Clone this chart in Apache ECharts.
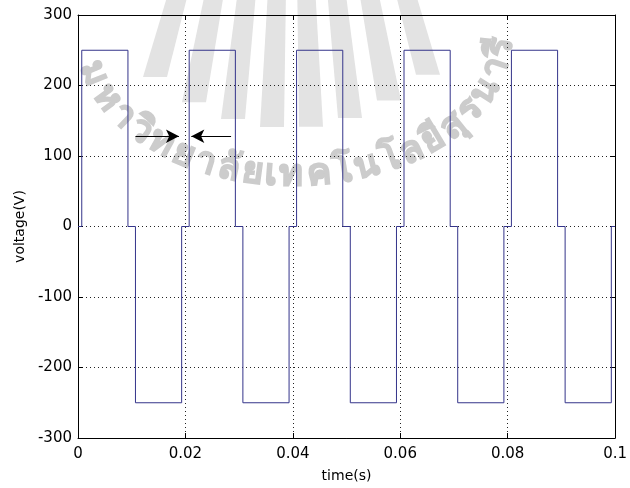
<!DOCTYPE html>
<html>
<head>
<meta charset="utf-8">
<script src="https://cdn.jsdelivr.net/npm/echarts@6/dist/echarts.min.js"></script>
<style>
  html, body { margin: 0; padding: 0; background: #ffffff; }
  #chart { width: 630px; height: 488px; }
</style>
</head>
<body>
<div id="chart"></div>
<script>
// Inverter output voltage: quasi-square wave with a short dead time at each zero crossing.
// Breakpoints in seconds; each value holds until the next breakpoint (step: 'end').
const times = [0, 0.0007, 0.0093, 0.0107, 0.0193, 0.0207, 0.0293, 0.0307, 0.0393, 0.0407,
               0.0493, 0.0507, 0.0593, 0.0607, 0.0693, 0.0707, 0.0793, 0.0807, 0.0893, 0.0907,
               0.0993, 0.1];
const volts = [0, 250, 0, -250, 0, 250, 0, -250, 0, 250,
               0, -250, 0, 250, 0, -250, 0, 250, 0, -250,
               0, 0];

const xTickLabels = ['0', '0.02', '0.04', '0.06', '0.08', '0.1'];
const yTickLabels = ['-300', '-200', '-100', '0', '100', '200', '300'];

// Dead-time markers: two arrows pointing at the gap around t = 0.02 s
const arrowLevel = 128;
const arrowFromLeft = [0.0107, 0.0188];
const arrowFromRight = [0.0285, 0.0211];

// Faint university seal behind the plot: curved name plus a fan of stripes
const sealText = ['ม','ห','า','วิ','ท','ย','า','ลั','ย','เ','ท','ค','โ','น','โ','ล','ยี','สุ','ร','น','า','รี'];

const FONT = 'DejaVu Sans';
const SEAL_FONT = 'bold 36px "' + FONT + '"';
const SEAL_GRAY = '#cccccc';

function sealName() {
  const cx = 294, cy = 38, a = 208, b = 138;
  const phiStart = 165 * Math.PI / 180, phiEnd = 4 * Math.PI / 180;
  const N = 600, pts = [];
  let len = 0, prev = null;
  for (let i = 0; i <= N; i++) {
    const phi = phiStart + (phiEnd - phiStart) * i / N;
    const p = [cx + a * Math.cos(phi), cy + b * Math.sin(phi)];
    if (prev) len += Math.hypot(p[0] - prev[0], p[1] - prev[1]);
    pts.push({ p, phi, len });
    prev = p;
  }
  // spread the glyph clusters along the arc in proportion to their widths
  const ctx = document.createElement('canvas').getContext('2d');
  ctx.font = SEAL_FONT;
  const widths = sealText.map(ch => Math.max(ctx.measureText(ch).width, 10));
  const total = widths.reduce((s, w) => s + w, 0);
  const first = widths[0] / 2, last = total - widths[widths.length - 1] / 2;
  const out = [];
  let acc = 0;
  sealText.forEach((ch, k) => {
    const mid = acc + widths[k] / 2;
    acc += widths[k];
    const target = (mid - first) / (last - first) * len;
    let j = 0;
    while (j < N && pts[j].len < target) j++;
    const { p, phi } = pts[j];
    const ang = Math.atan2(-b * Math.cos(phi), a * Math.sin(phi));
    out.push({
      type: 'text', silent: true, z: -10,
      x: p[0], y: p[1], rotation: -ang,
      style: { text: ch, fill: SEAL_GRAY, stroke: SEAL_GRAY, lineWidth: 1.6, font: SEAL_FONT,
               align: 'center', verticalAlign: 'middle' }
    });
  });
  return out;
}

function sealStripes() {
  const apex = [292, -420];
  const out = [];
  for (let k = 0; k < 8; k++) {
    const xb = 155 + k * 39;                       // base centre of the stripe
    const yb = 128 - 63 * Math.pow((xb - 290) / 150, 2);
    const half = 12;
    const yt = -5;
    const f = (yt - yb) / (apex[1] - yb);
    const pts = [
      [xb - half, yb], [xb + half, yb],
      [xb + half + (apex[0] - xb - half) * f, yt],
      [xb - half + (apex[0] - xb + half) * f, yt]
    ];
    out.push({
      type: 'polygon', silent: true, z: -11,
      shape: { points: pts },
      style: { fill: '#e3e3e3' }
    });
  }
  return out;
}

const chart = echarts.init(document.getElementById('chart'), null, { renderer: 'canvas' });

const axisBase = {
  type: 'value',
  axisLine: { show: true, onZero: false, lineStyle: { color: '#000', width: 1 } },
  axisTick: { show: true, inside: true, length: 5, lineStyle: { color: '#000', width: 1 } },
  splitLine: { show: false }
};

chart.setOption({
  animation: false,
  backgroundColor: '#ffffff',
  grid: { left: 78, right: 13, top: 15, bottom: 49, containLabel: false },
  graphic: sealStripes().concat(sealName()),
  xAxis: [
    Object.assign({}, axisBase, {
      position: 'bottom', min: 0, max: 0.1, interval: 0.02,
      name: 'time(s)', nameLocation: 'middle', nameGap: 31,
      nameTextStyle: { fontFamily: FONT, fontSize: 14, color: '#000' },
      axisLabel: {
        margin: 9, fontFamily: FONT, fontSize: 15, color: '#000',
        formatter: v => xTickLabels[Math.round(v / 0.02)]
      },
      splitLine: { show: true, lineStyle: { color: '#222', width: 1, type: [1, 3] } }
    }),
    Object.assign({}, axisBase, {
      position: 'top', min: 0, max: 0.1, interval: 0.02,
      axisLabel: { show: false }
    })
  ],
  yAxis: [
    Object.assign({}, axisBase, {
      position: 'left', min: -300, max: 300, interval: 100,
      name: 'voltage(V)', nameLocation: 'middle', nameGap: 49,
      nameTextStyle: { fontFamily: FONT, fontSize: 14, color: '#000' },
      axisLabel: {
        margin: 6, fontFamily: FONT, fontSize: 15, color: '#000',
        formatter: v => yTickLabels[Math.round((v + 300) / 100)]
      },
      splitLine: { show: true, lineStyle: { color: '#222', width: 1, type: [1, 3] } }
    }),
    Object.assign({}, axisBase, {
      position: 'right', min: -300, max: 300, interval: 100,
      axisLabel: { show: false }
    })
  ],
  series: [{
    type: 'line',
    xAxisIndex: 0, yAxisIndex: 0,
    step: 'end',
    showSymbol: false, symbol: 'none',
    lineStyle: { color: '#34348a', width: 1 },
    data: times.map((t, i) => [t, volts[i]]),
    markLine: {
      silent: true,
      animation: false,
      symbolSize: [10, 13],
      label: { show: false },
      lineStyle: { color: '#000', width: 1, type: 'solid' },
      data: [
        [{ coord: [arrowFromLeft[0], arrowLevel], symbol: 'none' },
         { coord: [arrowFromLeft[1], arrowLevel], symbol: 'arrow' }],
        [{ coord: [arrowFromRight[0], arrowLevel], symbol: 'none' },
         { coord: [arrowFromRight[1], arrowLevel], symbol: 'arrow' }]
      ]
    }
  }]
});
</script>
</body>
</html>
